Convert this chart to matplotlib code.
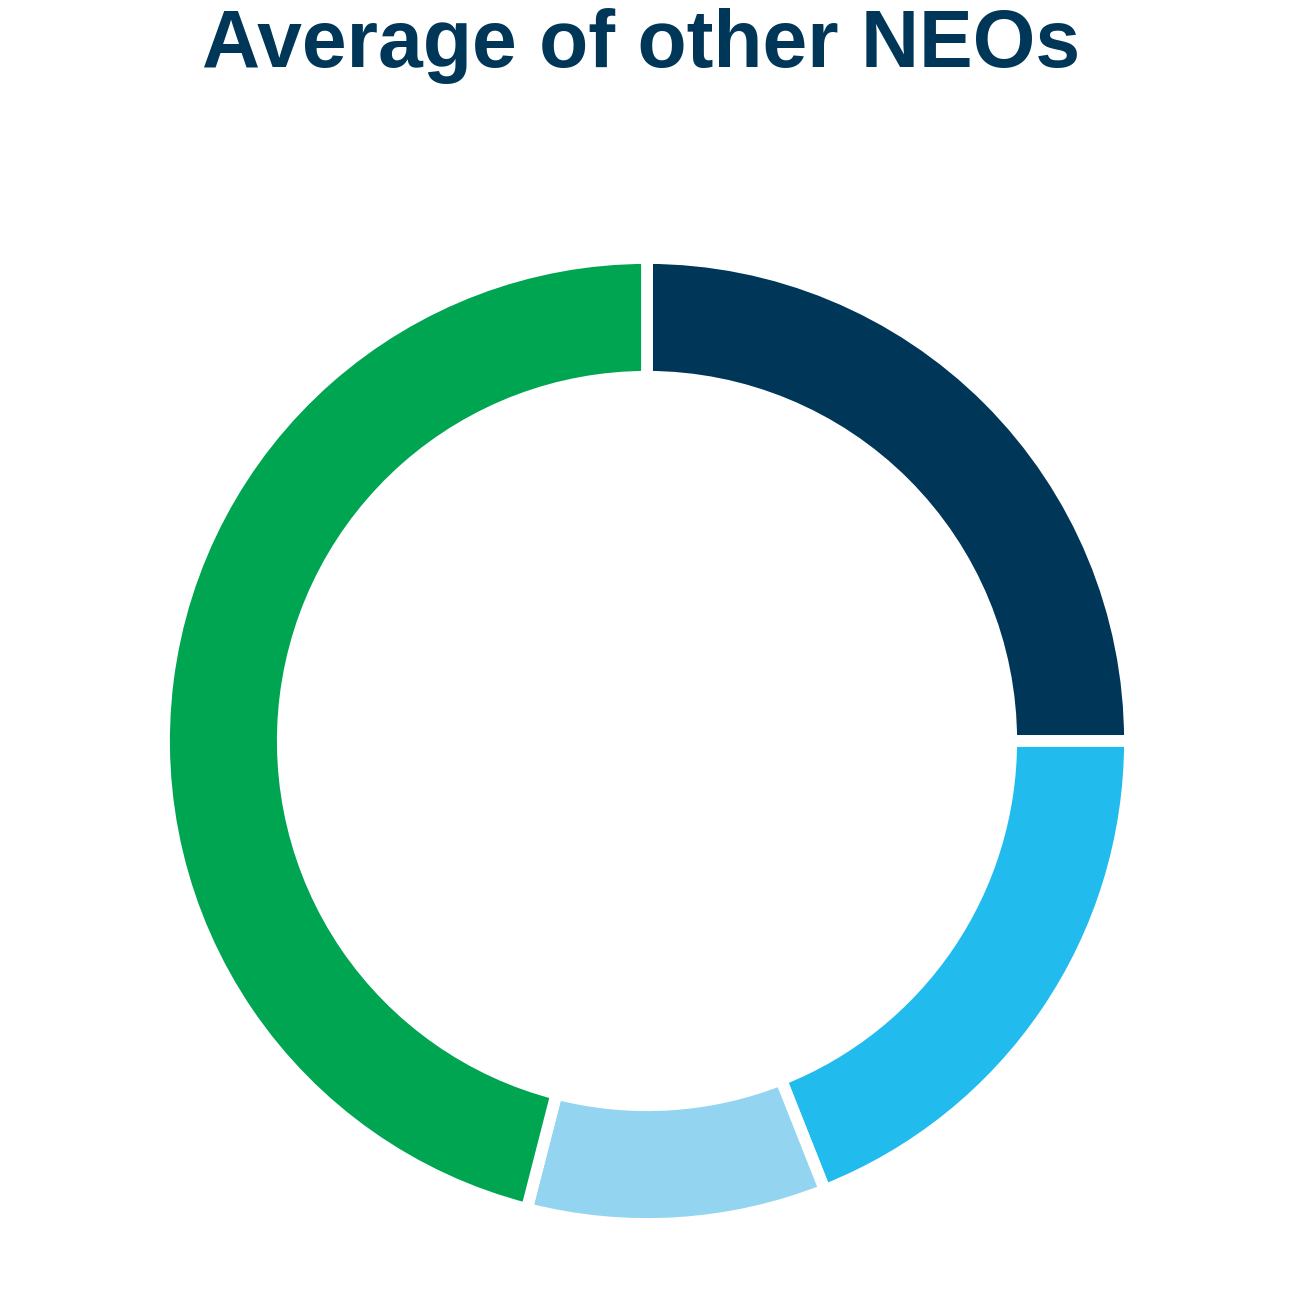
import matplotlib.pyplot as plt

# segment shares, clockwise from 12 o'clock
labels = ['Segment A', 'Segment B', 'Segment C', 'Segment D']
values = [25.0, 19.0, 10.0, 46.0]
colors = ['#003758', '#22BBEE', '#93D4F0', '#00A551']

title = 'Average of other NEOs'
title_color = '#003758'

fig = plt.figure(figsize=(12.96, 12.96), dpi=100)
ax = fig.add_axes([0.0, 0.0, 1.0, 1.0])

ax.pie(values, colors=colors, startangle=90, counterclock=False,
       radius=1.0, wedgeprops=dict(width=0.246, edgecolor='white', linewidth=8.5))
ax.set_aspect('equal')
# centre at (647, 741) px, outer radius ~483 px (white edge eats ~6 px)
cx, cy, r = 647 / 1296, 1 - 741 / 1296, 483 / 1296
ax.set_position([cx - r, cy - r, 2 * r, 2 * r])
ax.set_xlim(-1, 1)
ax.set_ylim(-1, 1)

fig.text(641 / 1296, 1 - 46 / 1296, title, ha='center', va='center',
         fontsize=58, fontweight='bold', color=title_color,
         family=['Liberation Sans', 'DejaVu Sans'])

fig.savefig('out.png', dpi=100, facecolor='white')
